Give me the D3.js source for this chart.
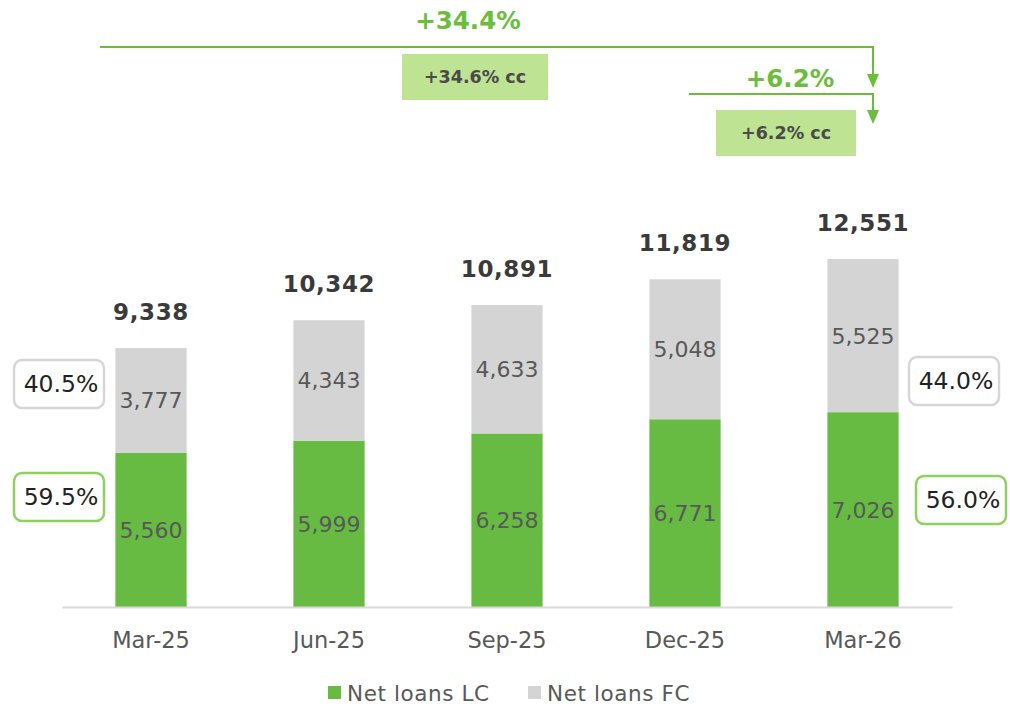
<!DOCTYPE html>
<html>
<head>
<meta charset="utf-8">
<script src="https://cdn.jsdelivr.net/npm/d3@7"></script>
<style>
  body { margin: 0; background: #fff; }
  svg text { font-family: "DejaVu Sans", "Noto Sans", sans-serif; }
</style>
</head>
<body>
<svg id="chart" width="1010" height="706"></svg>
<script>
// chart data
const periods = ["Mar-25", "Jun-25", "Sep-25", "Dec-25", "Mar-26"]
const loansLC = [5560, 5999, 6258, 6771, 7026]
const loansFC = [3777, 4343, 4633, 5048, 5525]
const totals = [9338, 10342, 10891, 11819, 12551]
const firstShare = { fc: "40.5%", lc: "59.5%" }
const lastShare = { fc: "44.0%", lc: "56.0%" }
const growthYoY = { main: "+34.4%", cc: "+34.6% cc" }
const growthQoQ = { main: "+6.2%", cc: "+6.2% cc" }
const seriesNames = ["Net loans LC", "Net loans FC"]

const GREEN = "#67bb43"
const GREY = "#d4d4d4"
const LIGHT_GREEN = "#bde393"
const ARROW = "#6cbd3c"
const TEXT = "#585858"

const svg = d3.select("#chart")
const baseY = 607

const x = d3.scaleBand()
  .domain(periods)
  .range([62, 952])
  .paddingInner(0.6)
  .paddingOuter(0.3)

const y = d3.scaleLinear()
  .domain([0, 12551])
  .range([baseY, 259])

const fmt = d3.format(",")

const rows = periods.map((p, i) => ({ p, lc: loansLC[i], fc: loansFC[i], total: totals[i] }))
const mid = (d) => x(d.p) + x.bandwidth() / 2

//////////////////////////////////////////////////////////////////////
// BARS
//////////////////////////////////////////////////////////////////////
const g = svg.append("g")

g.selectAll("rect.lc")
  .data(rows)
  .join("rect")
  .attr("class", "lc")
  .attr("x", (d) => x(d.p))
  .attr("width", x.bandwidth())
  .attr("y", (d) => y(d.lc))
  .attr("height", (d) => baseY - y(d.lc))
  .attr("fill", GREEN)

g.selectAll("rect.fc")
  .data(rows)
  .join("rect")
  .attr("class", "fc")
  .attr("x", (d) => x(d.p))
  .attr("width", x.bandwidth())
  .attr("y", (d) => y(d.total))
  .attr("height", (d) => y(d.lc) - y(d.total))
  .attr("fill", GREY)

// segment labels
g.selectAll("text.lcl")
  .data(rows)
  .join("text")
  .attr("x", mid)
  .attr("y", (d) => (y(d.lc) + baseY) / 2)
  .attr("dy", "0.36em")
  .attr("text-anchor", "middle")
  .attr("font-size", 22)
  .attr("fill", TEXT)
  .text((d) => fmt(d.lc))

g.selectAll("text.fcl")
  .data(rows)
  .join("text")
  .attr("x", mid)
  .attr("y", (d) => (y(d.lc) + y(d.total)) / 2)
  .attr("dy", "0.36em")
  .attr("text-anchor", "middle")
  .attr("font-size", 22)
  .attr("fill", TEXT)
  .text((d) => fmt(d.fc))

// totals
g.selectAll("text.tot")
  .data(rows)
  .join("text")
  .attr("x", mid)
  .attr("y", (d) => y(d.total) - 28)
  .attr("text-anchor", "middle")
  .attr("font-size", 23)
  .attr("font-weight", "bold")
  .attr("letter-spacing", 0.6)
  .attr("fill", "#3a3a3a")
  .text((d) => fmt(d.total))

// axis
const axis = svg.append("g")
  .attr("transform", `translate(0,${baseY})`)
  .call(d3.axisBottom(x).tickSize(0).tickPadding(25))
axis.select(".domain").attr("stroke", "#d9d9d9").attr("stroke-width", 2)
axis.selectAll("text")
  .attr("font-size", 22.5)
  .attr("fill", TEXT)
  .style("font-family", "'DejaVu Sans', sans-serif")

//////////////////////////////////////////////////////////////////////
// SHARE BOXES
//////////////////////////////////////////////////////////////////////
function shareBox(cx, cy, label, stroke) {
  const b = svg.append("g").attr("transform", `translate(${cx},${cy})`)
  b.append("rect")
    .attr("x", -45).attr("y", -24)
    .attr("width", 90).attr("height", 48)
    .attr("rx", 8)
    .attr("fill", "#fff")
    .attr("stroke", stroke)
    .attr("stroke-width", 2.5)
  b.append("text")
    .attr("x", 2)
    .attr("text-anchor", "middle")
    .attr("dy", "0.36em")
    .attr("font-size", 23.5)
    .attr("fill", "#222")
    .text(label)
}
shareBox(59, 384, firstShare.fc, "#d6d6d6")
shareBox(59, 497, firstShare.lc, "#8fd15e")
shareBox(954, 381, lastShare.fc, "#d6d6d6")
shareBox(961, 500, lastShare.lc, "#8fd15e")

//////////////////////////////////////////////////////////////////////
// GROWTH ARROWS
//////////////////////////////////////////////////////////////////////
function growth(x0, xEnd, lineY, tipY, label, textX, textY, cc, boxX, boxY, boxW) {
  svg.append("path")
    .attr("d", `M${x0},${lineY}H${xEnd}V${tipY - 12}`)
    .attr("fill", "none")
    .attr("stroke", ARROW)
    .attr("stroke-width", 2)
  svg.append("path")
    .attr("d", `M${xEnd - 6},${tipY - 14}L${xEnd + 6},${tipY - 14}L${xEnd},${tipY}Z`)
    .attr("fill", ARROW)
  svg.append("text")
    .attr("x", textX).attr("y", textY)
    .attr("dy", "0.36em")
    .attr("text-anchor", "middle")
    .attr("font-size", 24.5)
    .attr("font-weight", "bold")
    .attr("fill", ARROW)
    .text(label)
  svg.append("rect")
    .attr("x", boxX).attr("y", boxY)
    .attr("width", boxW).attr("height", 46)
    .attr("fill", LIGHT_GREEN)
  svg.append("text")
    .attr("x", boxX + boxW / 2).attr("y", boxY + 23)
    .attr("dy", "0.36em")
    .attr("text-anchor", "middle")
    .attr("font-size", 17.5)
    .attr("font-weight", "bold")
    .attr("fill", "#4a4a4a")
    .text(cc)
}
growth(100, 873, 47, 88, growthYoY.main, 468, 20, growthYoY.cc, 402, 54, 146)
growth(689, 873, 94, 124, growthQoQ.main, 790, 78, growthQoQ.cc, 716, 110, 140)

//////////////////////////////////////////////////////////////////////
// LEGEND
//////////////////////////////////////////////////////////////////////
const legend = svg.append("g")
const legendX = [328, 528]
const legendCol = [GREEN, GREY]
seriesNames.forEach((name, i) => {
  legend.append("rect")
    .attr("x", legendX[i]).attr("y", 686)
    .attr("width", 13).attr("height", 13)
    .attr("fill", legendCol[i])
  legend.append("text")
    .attr("x", legendX[i] + 19).attr("y", 693)
    .attr("dy", "0.36em")
    .attr("font-size", 21.5)
    .attr("letter-spacing", 0.6)
    .attr("fill", TEXT)
    .text(name)
})
</script>
</body>
</html>
